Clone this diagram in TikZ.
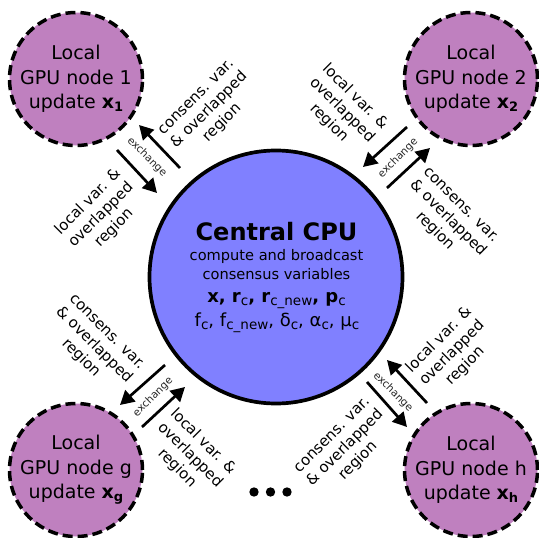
\documentclass[tikz,border=0pt]{standalone}
\usepackage{fontspec}
\setmainfont{DejaVu Sans}
\usetikzlibrary{arrows.meta}
\definecolor{gpufill}{RGB}{191,128,191}
\definecolor{cpufill}{RGB}{128,128,255}
\newcommand\csub[1]{\raisebox{-3pt}{\fontsize{13.5}{13.5}\mdseries\selectfont #1}}
\newcommand\bsub[1]{\raisebox{-3pt}{\fontsize{13}{13}\bfseries\selectfont #1}}
\begin{document}
\begin{tikzpicture}[x=1pt,y=-1pt,
  gpu/.style={circle, draw=black, fill=gpufill, line width=3.5pt, dash pattern=on 10pt off 5pt, minimum size=133pt, inner sep=0pt, align=center, font=\fontsize{19}{24.5}\selectfont},
  cpu/.style={circle, draw=black, fill=cpufill, line width=3.7pt, minimum size=253pt, inner sep=0pt},
  flow/.style={line width=2.7pt, -{Triangle[length=14pt,width=15pt]}},
  lbl/.style={align=center, font=\fontsize{15}{18.4}\selectfont, inner sep=0pt},
  exch/.style={font=\fontsize{10.5}{12}\selectfont, text=black!85, inner sep=0pt},
  cline/.style={anchor=base, inner sep=0pt}
]
\useasboundingbox (0,0) rectangle (539,538);

% nodes
\node[cpu] (cpu) at (276,277) {};
\node[gpu] (g1) at (76,79) {Local\\GPU node 1\\update \textbf{x}\bsub{1}};
\node[gpu] (g2) at (471,79) {Local\\GPU node 2\\update \textbf{x}\bsub{2}};
\node[gpu] (gg) at (76,470) {Local\\GPU node g\\update \textbf{x}\bsub{g}};
\node[gpu] (gh) at (471,470) {Local\\GPU node h\\update \textbf{x}\bsub{h}};

% CPU text
\node[cline, font=\fontsize{24}{24}\bfseries\selectfont] (ct) at (276.5,240) {Central CPU};
\node[cline, font=\fontsize{14.6}{15}\selectfont] (c1) at (276.5,260.7) {compute and broadcast};
\node[cline, font=\fontsize{14.6}{15}\selectfont] (c2) at (276.5,279) {consensus variables};
\node[cline, font=\fontsize{18}{18}\bfseries\selectfont] (c3) at (276.5,302.7) {x, r\csub{c}, r\csub{c\_new}, p\csub{c}};
\node[cline, font=\fontsize{18}{18}\selectfont] (c4) at (277,326.7) {f\csub{c}, f\csub{c\_new}, δ\csub{c}, α\csub{c}, μ\csub{c}};

% arrow end points
\coordinate (a1s) at (180,168); \coordinate (a1e) at (139,125);
\coordinate (b1s) at (117,150); \coordinate (b1e) at (157,193);
\coordinate (a2s) at (407,127); \coordinate (a2e) at (363,167);
\coordinate (b2s) at (387,188); \coordinate (b2e) at (430,148);
\coordinate (a3s) at (165,365); \coordinate (a3e) at (120,405);
\coordinate (b3s) at (142,427); \coordinate (b3e) at (185,387);
\coordinate (a4s) at (427,403); \coordinate (a4e) at (387,360);
\coordinate (b4s) at (367,382); \coordinate (b4e) at (407,427);

\draw[flow] (a1s) -- (a1e);
\draw[flow] (b1s) -- (b1e);
\draw[flow] (a2s) -- (a2e);
\draw[flow] (b2s) -- (b2e);
\draw[flow] (a3s) -- (a3e);
\draw[flow] (b3s) -- (b3e);
\draw[flow] (a4s) -- (a4e);
\draw[flow] (b4s) -- (b4e);

% exchange labels
\node[exch, rotate=-45] (e1) at (147,157) {exchange};
\node[exch, rotate=45] (e2) at (398,158) {exchange};
\node[exch, rotate=45] (e3) at (153,397) {exchange};
\node[exch, rotate=-45] (e4) at (393,392) {exchange};

% flow labels
\node[lbl, rotate=45] (l1a) at (210,111) {consens. var.\\\& overlapped\\region};
\node[lbl, rotate=45] (l1b) at (101,215) {local var. \&\\overlapped\\region};
\node[lbl, rotate=-45] (l2a) at (342,110) {local var. \&\\overlapped\\region};
\node[lbl, rotate=-45] (l2b) at (447,219) {consens. var.\\\& overlapped\\region};
\node[lbl, rotate=-45] (l3a) at (93,346) {consens. var.\\\& overlapped\\region};
\node[lbl, rotate=-45] (l3b) at (190,455) {local var. \&\\overlapped\\region};
\node[lbl, rotate=45] (l4a) at (452,353) {local var. \&\\overlapped\\region};
\node[lbl, rotate=45] (l4b) at (346,449) {consens. var.\\\& overlapped\\region};

% dots
\fill (254,492) circle (4.7);
\fill (270.5,492) circle (4.7);
\fill (287,492) circle (4.7);
\end{tikzpicture}
\end{document}
